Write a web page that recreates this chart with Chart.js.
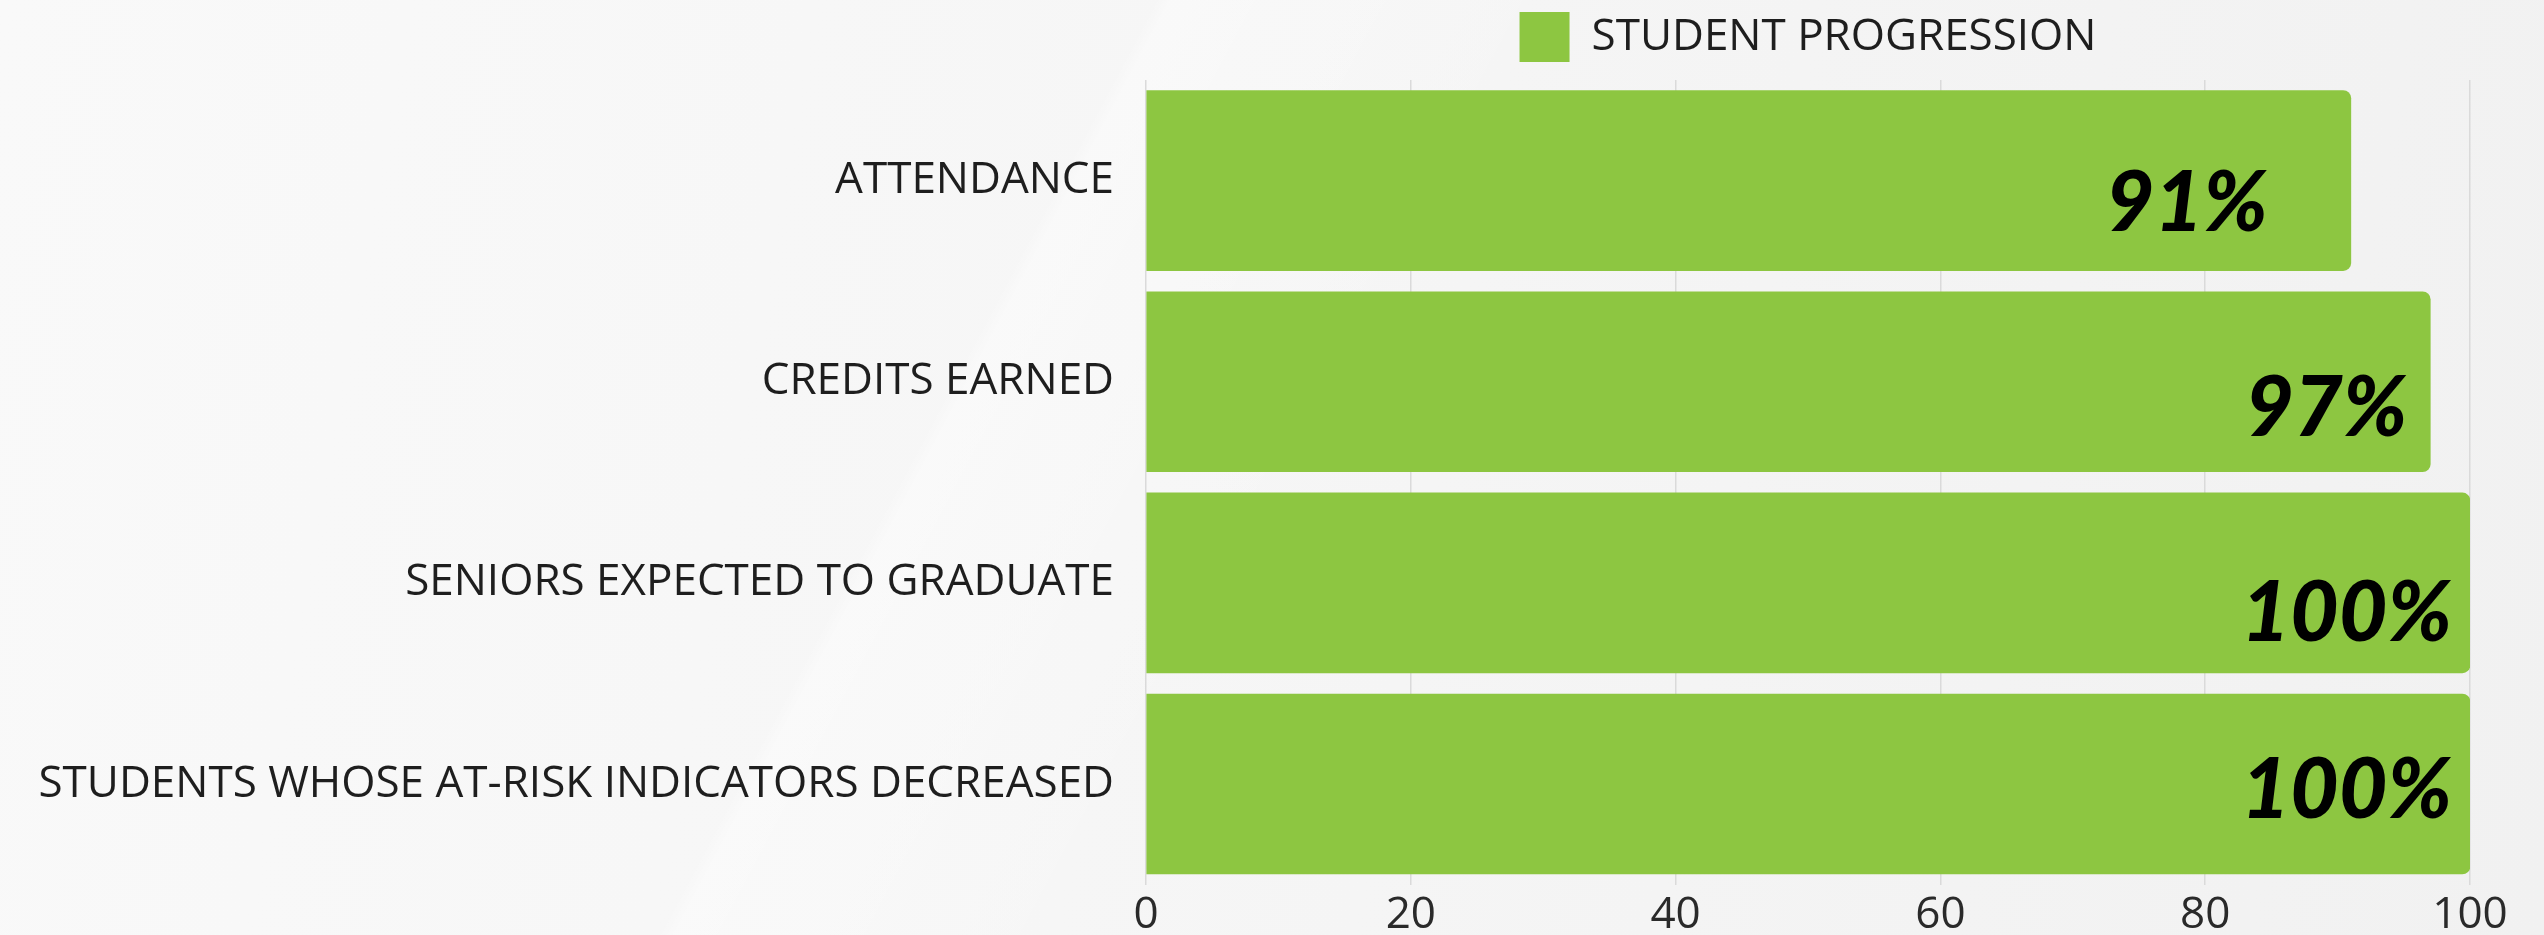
<!DOCTYPE html>
<html><head><meta charset="utf-8">
<script src="https://cdn.jsdelivr.net/npm/chart.js@4.4.1/dist/chart.umd.min.js"></script>
<style>
html,body{margin:0;padding:0;width:2544px;height:935px;overflow:hidden;}
body{background:
  linear-gradient(118deg, rgba(255,255,255,0) 0%, rgba(255,255,255,0) 38%, rgba(255,255,255,0.35) 38.5%, rgba(255,255,255,0) 52%),
  linear-gradient(100deg, #f9f9f9 0%, #f6f6f6 45%, #f1f1f1 100%);}
#wrap{position:relative;width:2544px;height:935px;}
canvas{display:block;}
</style></head><body><div id="wrap"><canvas id="c" width="2544" height="935"></canvas></div>
<script>
const categories = ['ATTENDANCE', 'CREDITS EARNED', 'SENIORS EXPECTED TO GRADUATE', 'STUDENTS WHOSE AT-RISK INDICATORS DECREASED'];
const seriesName = 'STUDENT PROGRESSION';
const progressValues = [91, 97, 100, 100];
const valueLabels = ['91%', '97%', '100%', '100%'];
const xTickValues = [0, 20, 40, 60, 80, 100];

const BAR_GREEN = '#8dc641';
Chart.defaults.font.family = "'Open Sans', 'Noto Sans', sans-serif";

const valueLabelPlugin = {
  id: 'valueLabels',
  afterDatasetsDraw(chart, args, opts) {
    const ctx = chart.ctx;
    const meta = chart.getDatasetMeta(0);
    ctx.save();
    ctx.font = opts.font;
    ctx.fillStyle = opts.color;
    ctx.textAlign = 'right';
    ctx.textBaseline = 'middle';
    meta.data.forEach((bar, i) => {
      const off = opts.offsets[i] || [0, 0];
      ctx.fillText(valueLabels[i], bar.x + off[0], bar.y + off[1]);
    });
    ctx.restore();
  }
};

const legendMarginPlugin = {
  id: 'legendMargin',
  beforeInit(chart) {
    const origFit = chart.legend.fit;
    chart.legend.fit = function () {
      origFit.call(this);
      this.height += 8;
    };
  }
};

new Chart(document.getElementById('c'), {
  type: 'bar',
  data: {
    labels: categories,
    datasets: [{
      label: seriesName,
      data: progressValues,
      backgroundColor: BAR_GREEN,
      borderColor: BAR_GREEN,
      borderWidth: 0,
      borderRadius: 8,
      barThickness: 180
    }]
  },
  options: {
    indexAxis: 'y',
    responsive: false,
    animation: false,
    devicePixelRatio: 1,
    layout: { padding: { top: 2, left: 0, right: 74, bottom: 0 } },
    scales: {
      x: {
        min: 0, max: 100,
        afterBuildTicks(scale) { scale.ticks = xTickValues.map(v => ({ value: v })); },
        afterFit(scale) { scale.height = 47; },
        grid: { color: '#dadada', lineWidth: 1.5, drawTicks: false },
        border: { display: false },
        ticks: { color: '#2a2a2a', padding: 9, font: { size: 44, lineHeight: 1 } }
      },
      y: {
        afterFit(scale) { scale.width = 1146; },
        grid: { display: false },
        border: { display: false },
        ticks: { color: '#1e1e1e', padding: 24, font: { size: 44 } }
      }
    },
    plugins: {
      tooltip: { enabled: false },
      legend: {
        position: 'top',
        align: 'center',
        fullSize: false,
        labels: {
          boxWidth: 50, boxHeight: 50, padding: 10,
          color: '#1e1e1e', font: { size: 44 }
        }
      },
      valueLabels: {
        font: "italic 900 84px Lato, 'Open Sans', sans-serif",
        color: '#000',
        offsets: [[-83, 23], [-23, 27], [-18, 31], [-18, 7]]
      }
    }
  },
  plugins: [valueLabelPlugin, legendMarginPlugin]
});
</script></body></html>
